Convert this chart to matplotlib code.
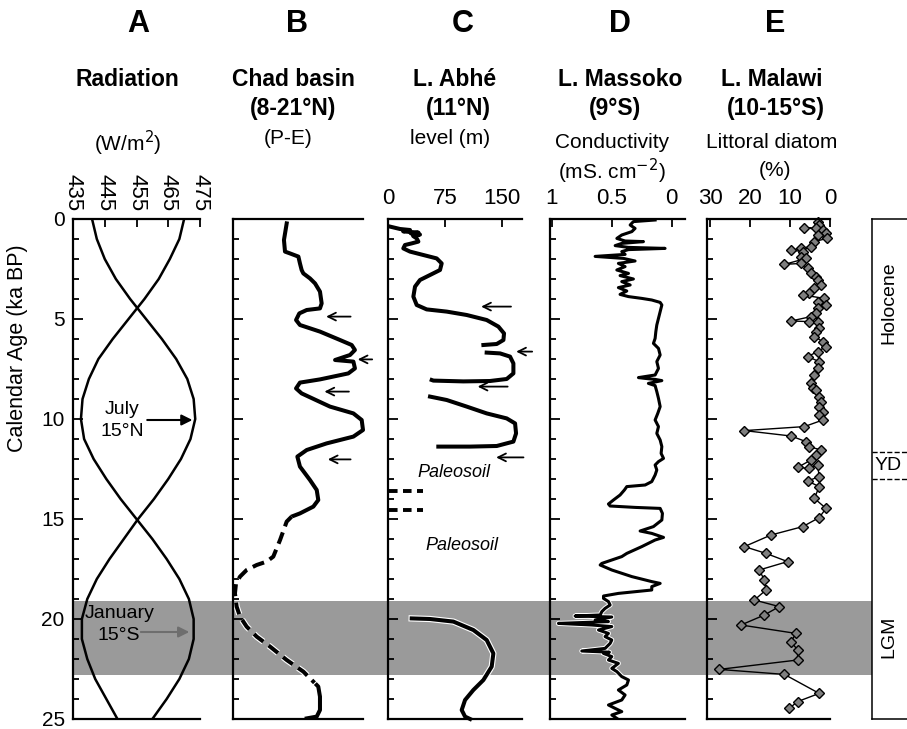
import matplotlib.pyplot as plt
import matplotlib.patheffects as pe
from matplotlib.ticker import MultipleLocator

plt.rcParams['font.family'] = ['Liberation Sans', 'DejaVu Sans']

# ---------------- data (ages in ka BP) ----------------
rad_age = list(range(26))
rad_july = [441, 442.5, 445, 448.5, 453, 458, 463, 467.5, 471, 473, 473.5, 472, 469,
            465, 460.5, 455.5, 451, 446.5, 442.5, 439.5, 437.8, 437.8, 439.5, 442, 445.5, 449]
rad_january = [470, 468.5, 465.5, 462, 457.5, 452.5, 447.5, 443, 440, 438, 437.5, 438.5, 441.5,
               445.5, 450, 455, 460, 464.5, 468.5, 471.5, 473, 473, 471.5, 468.5, 464.5, 460]

chad_age = [0.22, 1.05, 1.63, 1.72, 1.88, 2.22, 2.55, 2.72, 2.97, 3.22, 3.63, 4.22, 4.47, 4.55,
            4.72, 5.05, 5.3, 5.63, 6.05, 6.3, 6.55, 6.8, 7.05, 7.13, 7.47, 7.72, 8.02, 8.18,
            8.47, 8.72, 9.38, 9.72, 10.05, 10.55, 10.88, 11.22, 11.55, 11.88, 12.38, 13.05,
            13.55, 14.05, 14.38, 14.72, 14.88]
chad_pe = [0.413, 0.392, 0.40, 0.438, 0.503, 0.515, 0.528, 0.541, 0.592, 0.631, 0.669, 0.682,
           0.669, 0.567, 0.51, 0.485, 0.515, 0.669, 0.823, 0.913, 0.938, 0.9, 0.785, 0.926,
           0.938, 0.887, 0.669, 0.515, 0.485, 0.528, 0.746, 0.926, 0.99, 1.0, 0.926, 0.72,
           0.567, 0.495, 0.515, 0.592, 0.644, 0.656, 0.618, 0.515, 0.451]
chad_gap_age = [14.88, 15.13, 16.05, 16.88, 17.13, 17.3, 17.55, 17.88, 18.22, 18.72, 19.38,
                19.88, 20.38, 20.88, 21.38, 22.05, 22.63, 23.3]
chad_gap_pe = [0.451, 0.413, 0.362, 0.31, 0.259, 0.182, 0.105, 0.054, 0.023, 0.015, 0.028,
               0.054, 0.105, 0.182, 0.285, 0.413, 0.541, 0.644]
chad_base_age = [23.3, 23.38, 23.88, 24.55, 24.88, 24.97]
chad_base_pe = [0.644, 0.656, 0.669, 0.669, 0.644, 0.567]
chad_arrow_age = [4.88, 7.02, 8.63, 12.02]
chad_arrow_from = [0.926, 1.092, 0.913, 0.926]
chad_arrow_to = [0.695, 0.938, 0.682, 0.708]

abhe1_age = [0.38, 0.5, 0.55, 0.62, 0.68, 0.72, 0.78, 0.85, 0.97, 1.13, 1.22, 1.3, 1.47, 1.63,
             1.8, 1.97, 2.22, 2.55, 2.8, 3.05, 3.38, 3.88, 4.3, 4.52, 4.63, 4.8, 5.05, 5.38,
             5.72, 6.05, 6.25, 6.3]
abhe1_lvl = [2.6, 15.8, 28.9, 20.0, 40.0, 30.0, 42.0, 33.0, 37.7, 39.9, 31.1, 22.3, 20.1, 28.9,
             46.4, 63.9, 70.5, 68.3, 55.2, 42.0, 35.5, 33.3, 37.7, 50.8, 77.1, 103.4, 129.6,
             145.0, 152.4, 151.6, 142.8, 125.3]
abhe2_age = [6.68, 6.72, 6.88, 7.22, 7.72, 8.0, 8.1, 8.12, 8.08, 8.05]
abhe2_lvl = [129.6, 147.2, 160.3, 164.7, 164.7, 155.9, 134.0, 99.0, 59.6, 57.4]
abhe3_age = [8.88, 9.05, 9.38, 9.72, 9.97, 10.22, 10.72, 11.13, 11.35, 11.38, 11.38]
abhe3_lvl = [55.2, 77.1, 103.4, 129.6, 155.9, 166.9, 168.2, 164.7, 142.8, 107.8, 66.1]
abhe4_age = [19.97, 20.0, 20.13, 20.55, 21.05, 21.72, 22.38, 23.05, 23.55, 24.05, 24.55, 24.88, 25.0]
abhe4_lvl = [31.1, 55.2, 85.9, 112.1, 129.6, 138.4, 136.2, 125.3, 112.1, 101.2, 96.8, 101.2, 107.8]
abhe_arrow_age = [4.38, 6.63, 8.38, 11.92]
abhe_arrow_from = [165.2, 193.0, 160.8, 181.6]
abhe_arrow_to = [118.7, 164.7, 114.1, 138.4]
abhe_hiatus_age = [13.58, 14.53]

massoko_age = [0.05, 0.13, 0.3, 0.47, 0.63, 0.8, 0.97, 1.1, 1.13, 1.22,
               1.33, 1.42, 1.47, 1.53, 1.63, 1.77, 1.87, 1.97, 2.1, 2.22,
               2.38, 2.55, 2.72, 2.83, 3.0, 3.13, 3.3, 3.43, 3.6, 3.77,
               3.88, 3.97, 4.05, 4.17, 4.3, 4.63, 4.97, 5.3, 5.63, 5.97,
               6.22, 6.47, 6.8, 7.13, 7.47, 7.8, 7.93, 7.97, 8.02, 8.08,
               8.22, 8.33, 8.63, 8.97, 9.38, 9.72, 10.05, 10.38, 10.72, 11.05,
               11.38, 11.72, 11.97, 12.13, 12.3, 12.55, 12.8, 13.13, 13.3, 13.38,
               13.55, 13.8, 14.05, 14.25, 14.35, 14.42, 14.47, 14.72, 15.05, 15.38,
               15.6, 15.72, 15.92, 16.05, 16.38, 16.72, 16.88, 17.05, 17.22, 17.3,
               17.55, 17.88, 18.13, 18.22, 18.38, 18.55, 18.72, 18.85, 18.97, 19.13,
               19.3, 19.47, 19.63, 19.8, 19.85, 19.9, 20.05, 20.13, 20.22, 20.3,
               20.38, 20.55, 20.72, 20.88, 21.05, 21.22, 21.47, 21.6, 21.66, 21.72,
               21.88, 22.05, 22.22, 22.47, 22.63, 22.88, 23.05, 23.3, 23.55, 23.8,
               24.05, 24.3, 24.47, 24.63, 24.8, 24.97]
massoko_cond = [0.139, 0.32, 0.347, 0.306, 0.333, 0.417, 0.458, 0.389, 0.236, 0.417,
                0.472, 0.361, 0.056, 0.361, 0.417, 0.389, 0.639, 0.403, 0.306, 0.445,
                0.389, 0.458, 0.361, 0.431, 0.32, 0.417, 0.347, 0.445, 0.375, 0.431,
                0.361, 0.25, 0.167, 0.097, 0.083, 0.097, 0.111, 0.125, 0.133, 0.139,
                0.153, 0.111, 0.097, 0.125, 0.111, 0.139, 0.278, 0.222, 0.139, 0.083,
                0.195, 0.139, 0.125, 0.111, 0.097, 0.117, 0.139, 0.111, 0.125, 0.097,
                0.083, 0.089, 0.069, 0.111, 0.139, 0.125, 0.139, 0.167, 0.222, 0.375,
                0.395, 0.431, 0.486, 0.528, 0.514, 0.306, 0.097, 0.078, 0.083, 0.153,
                0.264, 0.167, 0.069, 0.139, 0.25, 0.375, 0.417, 0.5, 0.583, 0.597,
                0.5, 0.333, 0.167, 0.097, 0.167, 0.167, 0.445, 0.569, 0.569, 0.528,
                0.514, 0.556, 0.583, 0.597, 0.806, 0.5, 0.639, 0.528, 0.945, 0.667,
                0.5, 0.611, 0.528, 0.556, 0.5, 0.514, 0.556, 0.75, 0.52, 0.569,
                0.5, 0.528, 0.445, 0.5, 0.458, 0.417, 0.361, 0.375, 0.445, 0.389,
                0.417, 0.528, 0.472, 0.417, 0.5, 0.458]

malawi_age = [0.13, 0.3, 0.47, 0.43, 0.55, 0.72, 0.8, 0.97, 1.13, 1.38, 1.47, 1.55, 1.63,
              1.88, 1.97, 2.27, 2.22, 2.47, 2.72, 2.88, 3.05, 3.3, 3.47, 3.72, 3.8, 3.97,
              4.13, 4.3, 4.47, 4.72, 4.88, 5.1, 5.13, 5.17, 5.47, 5.63, 5.88, 6.13, 6.38,
              6.63, 6.88, 7.13, 7.47, 7.8, 8.22, 8.47, 8.55, 8.88, 9.13, 9.38, 9.63, 9.8,
              10.05, 10.38, 10.58, 10.85, 11.13, 11.38, 11.55, 11.8, 12.05, 12.42, 12.47,
              12.3, 12.88, 13.1, 13.38, 13.97, 14.47, 14.93, 15.38, 15.8, 16.38, 16.72,
              17.13, 17.55, 18.05, 18.55, 19.05, 19.38, 19.8, 20.3, 20.72, 21.13, 21.55,
              22.05, 22.52, 22.77, 23.72, 24.13, 24.47]
malawi_pct = [3.1, 2.7, 3.5, 6.4, 1.8, 1.0, 3.1, 0.75, 3.9, 4.75, 7.25, 9.75, 6.8,
              7.25, 6.0, 11.4, 7.25, 5.6, 4.75, 3.5, 3.1, 2.25, 3.9, 5.2, 6.8, 1.4,
              3.1, 1.0, 3.1, 3.5, 4.75, 9.75, 5.2, 3.1, 2.7, 3.5, 3.9, 1.8, 1.0,
              3.1, 5.6, 2.7, 3.1, 3.9, 4.75, 4.3, 3.5, 2.7, 2.25, 2.7, 1.8, 2.7,
              1.8, 6.4, 21.4, 9.75, 6.0, 5.2, 2.25, 3.5, 4.75, 8.1, 5.2,
              3.1, 2.7, 5.6, 2.7, 3.9, 1.0, 2.7, 6.8, 14.75, 21.4, 16.0,
              10.6, 17.7, 16.4, 16.0, 18.9, 12.7, 16.4, 22.25, 8.5, 9.75, 8.1,
              8.1, 27.7, 11.4, 2.7, 8.1, 10.2]

lgm_band = (19.1, 22.8)
yd_limits = (11.63, 13.02)

# ---------------- figure ----------------
W, H = 907, 729
fig = plt.figure(figsize=(W / 100, H / 100), dpi=100)


def px_axes(x0, x1, y0=219, y1=719):
    return fig.add_axes([x0 / W, 1 - y1 / H, (x1 - x0) / W, (y1 - y0) / H])


def ftext(x, y, s, **kw):
    fig.text(x / W, 1 - y / H, s, ha='center', va='center', **kw)


def style(ax, xlim):
    ax.set_facecolor('none')
    ax.set_ylim(25, 0)
    ax.set_xlim(*xlim)
    ax.spines['right'].set_visible(False)
    for s in ['left', 'top', 'bottom']:
        ax.spines[s].set_linewidth(1.6)
    ax.yaxis.set_major_locator(MultipleLocator(5))
    ax.yaxis.set_minor_locator(MultipleLocator(1))
    ax.tick_params(axis='y', which='major', direction='in', length=7, width=1.3,
                   labelleft=False)
    ax.tick_params(axis='y', which='minor', direction='in', length=4, width=1.3)
    ax.xaxis.tick_top()
    ax.tick_params(axis='x', direction='in', length=6, width=1.3, labelsize=16, pad=7)


halo = [pe.Stroke(linewidth=4.5, foreground='white'), pe.Normal()]
halo_thin = [pe.Stroke(linewidth=3.6, foreground='white'), pe.Normal()]

# LGM band running behind all panels
bg = px_axes(73, 872)
bg.set_ylim(25, 0)
bg.axis('off')
bg.axhspan(*lgm_band, color='#9a9a9a', lw=0)

# A: radiation (x in W/m2; 3.175 px per W/m2)
axA = px_axes(73, 200)
style(axA, (435, 475))
axA.set_xticks([435, 445, 455, 465, 475])
axA.set_xticklabels(['435', '445', '455', '465', '475'], rotation=270)
axA.tick_params(axis='x', pad=6)
axA.set_yticks([0, 5, 10, 15, 20, 25])
axA.tick_params(axis='y', labelleft=True, labelsize=15, pad=6)
axA.plot(rad_july, rad_age, color='black', lw=1.8)
axA.plot(rad_january, rad_age, color='black', lw=1.8)
axA.text(450.4, 9.55, 'July', ha='center', va='center', fontsize=14)
axA.text(450.4, 10.6, '15°N', ha='center', va='center', fontsize=14)
axA.text(449.8, 19.7, 'January', ha='center', va='center', fontsize=14)
axA.text(449.5, 20.8, '15°S', ha='center', va='center', fontsize=14)
axA.annotate('', xy=(473.5, 10.05), xytext=(457.5, 10.05),
             arrowprops=dict(arrowstyle='-|>', color='black', lw=1.5, mutation_scale=16))
axA.annotate('', xy=(472.5, 20.65), xytext=(455.5, 20.65),
             arrowprops=dict(arrowstyle='-|>', color='#6e6e6e', lw=1.5, mutation_scale=16))

# B: Chad basin
axB = px_axes(233, 363)
style(axB, (0, 1.0))
axB.tick_params(axis='x', top=False, labeltop=False)
axB.plot(chad_pe, chad_age, color='black', lw=2.9, clip_on=False, path_effects=halo)
axB.plot(chad_gap_pe, chad_gap_age, color='black', lw=2.9, dashes=(3, 1.6),
         path_effects=halo)
axB.plot(chad_base_pe, chad_base_age, color='black', lw=2.9, path_effects=halo)
for a, x0, x1 in zip(chad_arrow_age, chad_arrow_from, chad_arrow_to):
    axB.annotate('', xy=(x1, a), xytext=(x0, a), annotation_clip=False,
                 arrowprops=dict(arrowstyle='->', color='black', lw=1.3, mutation_scale=14))

# C: L. Abhe
axC = px_axes(388, 522)
style(axC, (0, 176))
axC.set_xticks([0, 75, 150])
for ages, lvls in [(abhe1_age, abhe1_lvl), (abhe2_age, abhe2_lvl),
                   (abhe3_age, abhe3_lvl), (abhe4_age, abhe4_lvl)]:
    axC.plot(lvls, ages, color='black', lw=2.9, clip_on=False, path_effects=halo)
for a in abhe_hiatus_age:
    axC.plot([1, 46], [a, a], color='black', lw=2.8, dashes=(2.2, 1.4))
for a, x0, x1 in zip(abhe_arrow_age, abhe_arrow_from, abhe_arrow_to):
    axC.annotate('', xy=(x1, a), xytext=(x0, a), annotation_clip=False,
                 arrowprops=dict(arrowstyle='->', color='black', lw=1.3, mutation_scale=14))
axC.text(86, 12.67, 'Paleosoil', style='italic', ha='center', va='center', fontsize=13)
axC.text(97, 16.33, 'Paleosoil', style='italic', ha='center', va='center', fontsize=13)

# D: L. Massoko
axD = px_axes(550, 685)
style(axD, (1.015, -0.11))
axD.set_xticks([1, 0.5, 0])
axD.set_xticklabels(['1', '0.5', '0'])
axD.plot(massoko_cond, massoko_age, color='black', lw=2.2, path_effects=halo_thin)

# E: L. Malawi
axE = px_axes(707, 830)
style(axE, (30.75, 0))
axE.set_xticks([30, 20, 10, 0])
axE.plot(malawi_pct, malawi_age, color='black', lw=1.0, marker='D', markersize=5.5,
         markerfacecolor='#7f7f7f', markeredgecolor='black', markeredgewidth=1.0,
         clip_on=False)

# right-hand period box
axR = px_axes(872, 945)
axR.set_facecolor('none')
axR.set_xlim(872, 945)
axR.set_ylim(25, 0)
axR.set_xticks([])
axR.set_yticks([])
for s in axR.spines.values():
    s.set_linewidth(1.1)
for a in yd_limits:
    axR.plot([872, 907], [a, a], color='black', lw=1.0, ls='--')
axR.text(889, 4.2, 'Holocene', rotation=90, ha='center', va='center', fontsize=14)
axR.text(875, 12.32, 'YD', ha='left', va='center', fontsize=14)
axR.text(889, 20.9, 'LGM', rotation=90, ha='center', va='center', fontsize=14)

# headers
for x, s in [(138, 'A'), (297, 'B'), (463, 'C'), (620, 'D'), (775, 'E')]:
    ftext(x, 24, s, fontsize=22, fontweight='bold')
ftext(127, 80, 'Radiation', fontsize=16.5, fontweight='bold')
ftext(128, 143, '(W/m$^2$)', fontsize=15)
ftext(293, 80, 'Chad basin', fontsize=16.5, fontweight='bold')
ftext(293, 109, '(8-21°N)', fontsize=16.5, fontweight='bold')
ftext(288, 139, '(P-E)', fontsize=15)
ftext(455, 80, 'L. Abhé', fontsize=16.5, fontweight='bold')
ftext(458, 109, '(11°N)', fontsize=16.5, fontweight='bold')
ftext(450, 138, 'level (m)', fontsize=15)
ftext(620, 80, 'L. Massoko', fontsize=16.5, fontweight='bold')
ftext(615, 109, '(9°S)', fontsize=16.5, fontweight='bold')
ftext(612, 143, 'Conductivity', fontsize=15)
ftext(612, 171, '(mS. cm$^{-2}$)', fontsize=15)
ftext(772, 80, 'L. Malawi', fontsize=16.5, fontweight='bold')
ftext(776, 109, '(10-15°S)', fontsize=16.5, fontweight='bold')
ftext(772, 143, 'Littoral diatom', fontsize=15)
ftext(775, 171, '(%)', fontsize=15)
ftext(18, 348, 'Calendar Age (ka BP)', rotation=90, fontsize=15.5)

fig.savefig('out.png', dpi=100)
